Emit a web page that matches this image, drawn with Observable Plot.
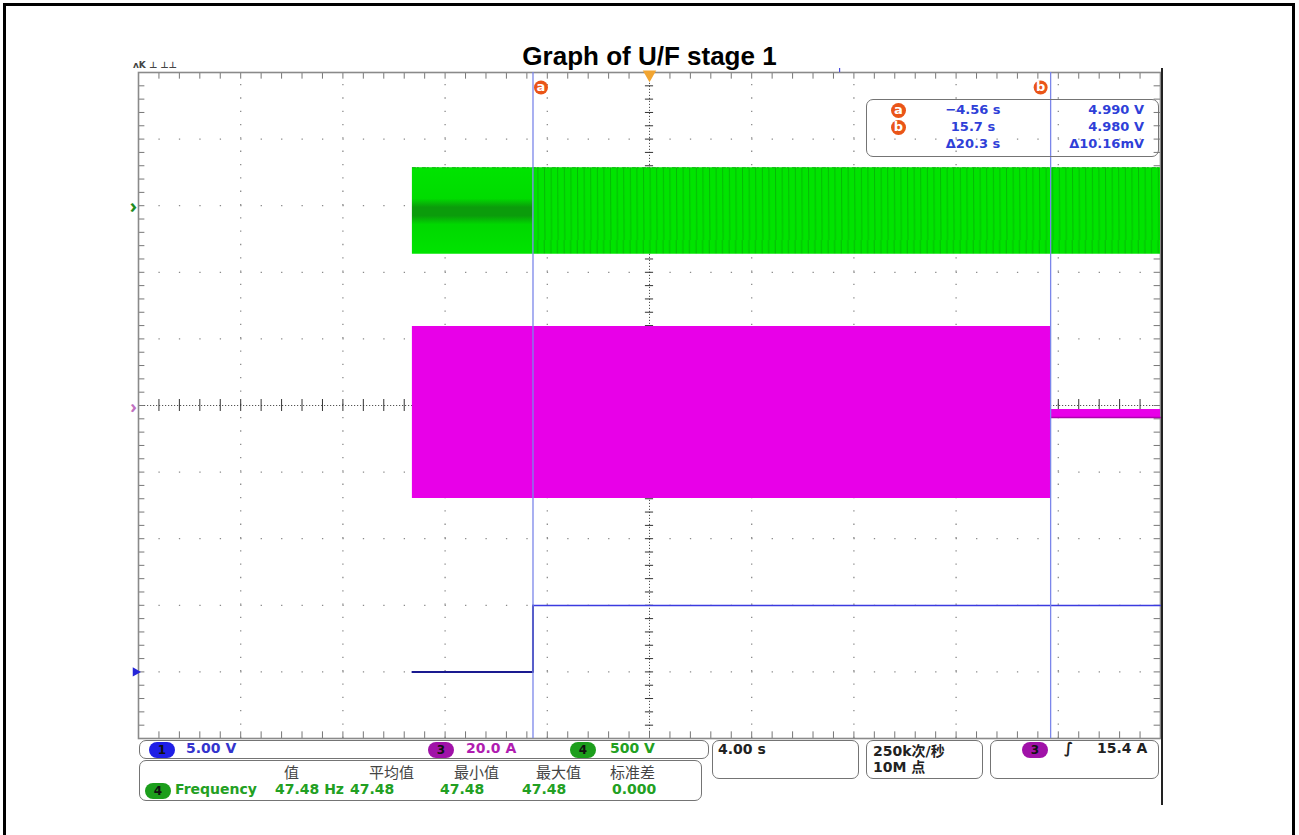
<!DOCTYPE html>
<html>
<head>
<meta charset="utf-8">
<script src="https://cdn.jsdelivr.net/npm/d3@7"></script>
<script src="https://cdn.jsdelivr.net/npm/@observablehq/plot@0.6"></script>
<style>
  body { margin: 0; background: #fff; }
  #wrap { position: relative; width: 1299px; height: 835px; overflow: hidden; font-family: "DejaVu Sans", sans-serif; }
  #plot { position: absolute; left: 0; top: 0; }
  .abs { position: absolute; white-space: nowrap; }
  .box { position: absolute; border: 1.6px solid #747474; border-radius: 7px; box-sizing: border-box; }
  .badge { position: absolute; width: 26px; height: 16px; border-radius: 8px; font: bold 12px "DejaVu Sans", sans-serif; color: #111; text-align: center; line-height: 16px; }
</style>
</head>
<body>
<svg width="0" height="0" style="position:absolute">
  <defs>
    <pattern id="gStripes" patternUnits="userSpaceOnUse" x="0" y="0" width="6.6" height="120">
      <rect width="6.6" height="120" fill="#00e400"/>
      <line x1="3" y1="0" x2="3.8" y2="120" stroke="#0a8a0a" stroke-width="0.8" stroke-opacity="0.6"/>
    </pattern>
    <linearGradient id="gBand" x1="0" y1="0" x2="0" y2="1">
      <stop offset="0" stop-color="#00e400"/>
      <stop offset="0.36" stop-color="#00dc00"/>
      <stop offset="0.46" stop-color="#0b9c0b"/>
      <stop offset="0.56" stop-color="#0b9c0b"/>
      <stop offset="0.66" stop-color="#00d800"/>
      <stop offset="1" stop-color="#00e400"/>
    </linearGradient>
  </defs>
</svg>
<div id="wrap">
  <div id="plot"></div>
</div>
<script>
const secondsPerDiv = 4.00;            // horizontal scale
const timeDomain = [-20, 20];          // s (10 divisions, trigger at centre)
const divDomain = [-5, 5];             // vertical divisions

// Channel 4 (green, 500 V/div) : envelope of the AC voltage
const ch4PerDiv = 500;
const ch4Offset = 2.92;                // div
const ch4Time = [-9.28, -4.56, 20];
const ch4Max = [325, 325, 325];        // V
const ch4Min = [-325, -325, -325];     // V

// Channel 3 (magenta, 20 A/div) : envelope of the current
const ch3PerDiv = 20;
const ch3Offset = 0;
const ch3Time = [-9.28, 15.7, 15.7, 20];
const ch3Max = [23.7, 23.7, -1.2, -1.2];   // A
const ch3Min = [-27.9, -27.9, -3.6, -3.6]; // A

// Channel 1 (blue, 5 V/div) : enable signal
const ch1PerDiv = 5;
const ch1Offset = -4;
const ch1Time = [-9.28, -4.56, -4.56, 20];
const ch1Volts = [0, 0, 4.99, 4.99];

// Cursors
const cursorTime = [-4.56, 15.7];
const cursorName = ["a", "b"];
const readTime = ["\u22124.56 s", "15.7 s", "\u039420.3 s"];
const readValue = ["4.990 V", "4.980 V", "\u039410.16mV"];

// Status bar
const chanBadge = ["1", "3", "4"];
const chanScale = ["5.00 V", "20.0 A", "500 V"];
const statHeader = ["值", "平均值", "最小值", "最大值", "标准差"];
const statValue = ["47.48 Hz", "47.48", "47.48", "47.48", "0.000"];
const statName = "Frequency";
const timeBase = "4.00 s";
const sampleRate = ["250k次/秒", "10M 点"];
const trigLevel = "15.4 A";
const title = "Graph of U/F stage 1";
const headerRemnant = "ʌK ⊥ ⊥⊥";

// ---------------- build ----------------
const toDiv = (v, perDiv, off) => v / perDiv + off;
const ch4 = ch4Time.map((t, i) => ({t, hi: toDiv(ch4Max[i], ch4PerDiv, ch4Offset), lo: toDiv(ch4Min[i], ch4PerDiv, ch4Offset)}));
const ch3 = ch3Time.map((t, i) => ({t, hi: toDiv(ch3Max[i], ch3PerDiv, ch3Offset), lo: toDiv(ch3Min[i], ch3PerDiv, ch3Offset)}));
const ch1 = ch1Time.map((t, i) => ({t, v: toDiv(ch1Volts[i], ch1PerDiv, ch1Offset)}));
const cursors = cursorTime.map((t, i) => ({t, name: cursorName[i]}));

const majorX = d3.range(-5, 6).map(i => i * secondsPerDiv);
const majorY = d3.range(-5, 6);
const minorX = d3.range(-25, 26).map(i => i * secondsPerDiv / 5);
const minorY = d3.range(-25, 26).map(i => i / 5);

const W = 1299, H = 835, L = 138, R = 1160, T = 72, B = 738;
const pxX = (R - L) / 10 / 5, pxY = (B - T) / 10 / 5;

const chart = Plot.plot({
  width: W, height: H,
  marginLeft: L, marginRight: W - R, marginTop: T, marginBottom: H - B,
  x: {domain: timeDomain, axis: null},
  y: {domain: divDomain, axis: null},
  style: {background: "transparent", overflow: "visible"},
  marks: [
    // dotted graticule
    Plot.ruleX(majorX.filter(d => d !== 0 && Math.abs(d) !== 20), {x: d => d, y1: -5, y2: 5, stroke: "#8a8a8a", strokeWidth: 1.3, strokeDasharray: `1.3 ${pxY - 1.3}`}),
    Plot.ruleY(majorY.filter(d => d !== 0 && Math.abs(d) !== 5), {y: d => d, x1: -20, x2: 20, stroke: "#8a8a8a", strokeWidth: 1.3, strokeDasharray: `1.3 ${pxX - 1.3}`}),
    // centre lines
    Plot.ruleX([0], {x: d => d, y1: -5, y2: 5, stroke: "#555", strokeWidth: 1, strokeDasharray: "1.2 1.8"}),
    Plot.ruleY([0], {y: d => d, x1: -20, x2: 20, stroke: "#555", strokeWidth: 1, strokeDasharray: "1.2 1.8"}),
    Plot.ruleX(minorX, {x: d => d, y1: -0.09, y2: 0.09, stroke: "#333", strokeWidth: 1}),
    Plot.ruleY(minorY, {y: d => d, x1: -0.16, x2: 0.16, stroke: "#333", strokeWidth: 1}),
    // edge ticks
    Plot.ruleX(minorX, {x: d => d, y1: 5, y2: 4.9, stroke: "#777", strokeWidth: 1}),
    Plot.ruleX(minorX, {x: d => d, y1: -5, y2: -4.9, stroke: "#777", strokeWidth: 1}),
    Plot.ruleY(minorY, {y: d => d, x1: -20, x2: -19.75, stroke: "#777", strokeWidth: 1}),
    Plot.ruleY(minorY, {y: d => d, x1: 20, x2: 19.75, stroke: "#777", strokeWidth: 1}),
    Plot.frame({stroke: "#8a8a8a", strokeWidth: 1.6}),

    // channel 4 (green)
    Plot.areaY(ch4.slice(0, 2), {x: "t", y1: "lo", y2: "hi", fill: "url(#gBand)"}),
    Plot.areaY(ch4.slice(1), {x: "t", y1: "lo", y2: "hi", fill: "url(#gStripes)"}),
    Plot.lineY(ch4, {x: "t", y: "hi", stroke: "#11b411", strokeWidth: 1, strokeDasharray: "3 2 1 4"}),

    // channel 3 (magenta)
    Plot.areaY(ch3, {x: "t", y1: "lo", y2: "hi", fill: "#e800e8"}),
    Plot.lineY(ch3.slice(2), {x: "t", y: "lo", stroke: "#b000b0", strokeWidth: 1.4}),

    // channel 1 (blue)
    Plot.lineY(ch1.slice(0, 3), {x: "t", y: "v", stroke: "#1a1a90", strokeWidth: 2}),
    Plot.lineY(ch1.slice(2), {x: "t", y: "v", stroke: "#3b3be0", strokeWidth: 1.6}),

    // cursors
    Plot.ruleX(cursors, {x: "t", y1: -5, y2: 5, stroke: "#7b86ea", strokeWidth: 1.3}),
    Plot.dot(cursors.slice(0, 1), {x: "t", y: 5, dy: 15, dx: 8, r: 7, fill: "#ea5518"}),
    Plot.text(cursors.slice(0, 1), {x: "t", y: 5, dy: 14, dx: 8, text: "name", fill: "white", fontWeight: "bold", fontSize: 13, fontFamily: "DejaVu Sans"}),
    Plot.dot(cursors.slice(1), {x: "t", y: 5, dy: 15, dx: -10, r: 7, fill: "#ea5518"}),
    Plot.text(cursors.slice(1), {x: "t", y: 5, dy: 14, dx: -10, text: "name", fill: "white", fontWeight: "bold", fontSize: 13, fontFamily: "DejaVu Sans"}),

    // trigger position marker
    Plot.dot([0], {x: d => d, y: 5, dy: 2, symbol: "triangle", rotate: 180, r: 5, fill: "#f2a531"}),
    // memory position mark
    Plot.ruleX([7.44], {x: d => d, y1: 5, y2: 5.06, stroke: "#4b4be0", strokeWidth: 1.2}),

    // channel ground markers on the left
    Plot.text([ch4Offset + 0.07], {x: -20, y: d => d, dx: -5, text: () => "\u203A", fill: "#1e8c1e", fontSize: 20, fontWeight: "bold"}),
    Plot.text([ch3Offset - 0.03], {x: -20, y: d => d, dx: -5, text: () => "\u203A", fill: "#c070c0", fontSize: 18, fontWeight: "bold"}),
    Plot.dot([ch1Offset], {x: -20, y: d => d, dx: -3, symbol: "triangle", rotate: 90, r: 3.5, fill: "#2525d8"})
  ]
});
document.getElementById("plot").appendChild(chart);

// ---------------- overlay text (title, readouts, status bar) ----------------
const wrap = document.getElementById("wrap");
function add(html, style, cls = "abs") {
  const d = document.createElement("div");
  d.className = cls;
  d.innerHTML = html;
  Object.assign(d.style, style);
  wrap.appendChild(d);
  return d;
}

// page frame
add("", {left: "3px", top: "3px", width: "1292px", height: "900px", border: "3px solid #000", borderBottom: "none", boxSizing: "border-box"});
add("", {left: "1161px", top: "68px", width: "1.5px", height: "737px", background: "#222"});

// scope header remnant (top-left)
add(headerRemnant, {left: "133px", top: "60px", font: "bold 9px 'DejaVu Sans'", color: "#444"});

// title
add(title, {left: "0px", width: "1299px", top: "41px", textAlign: "center", font: "bold 26px 'Liberation Sans', Arial, sans-serif", color: "#000"});

// cursor readout box
add("", {left: "866px", top: "99px", width: "293px", height: "58px"}, "box");
const blue = "#2f3fd8";
cursorName.forEach((n, i) => {
  add(n, {left: "891px", top: `${103 + i * 17}px`, width: "15px", height: "15px", borderRadius: "8px", background: "#ea5518", color: "#fff", font: "bold 13px 'DejaVu Sans'", textAlign: "center", lineHeight: "14px"});
});
readTime.forEach((s, i) => add(s, {left: "928px", width: "90px", top: `${102 + i * 17}px`, textAlign: "center", font: "bold 13px 'DejaVu Sans'", color: blue}));
readValue.forEach((s, i) => add(s, {left: "1040px", width: "104px", top: `${102 + i * 17}px`, textAlign: "right", font: "bold 13px 'DejaVu Sans'", color: blue}));

// status: channel scales
add("", {left: "139px", top: "740px", width: "570px", height: "19px"}, "box");
const badgeColors = ["#1f1fe6", "#a012a8", "#1c9e1c"];
const scaleColors = ["#3434cc", "#b01cb0", "#22a022"];
const badgeX = [149, 428, 570], scaleX = [186, 466, 610];
chanBadge.forEach((b, i) => {
  add(b, {left: `${badgeX[i]}px`, top: "741.5px", background: badgeColors[i]}, "badge");
  add(chanScale[i], {left: `${scaleX[i]}px`, top: "740px", font: "bold 14px 'DejaVu Sans'", color: scaleColors[i]});
});

// status: measurement
add("", {left: "139px", top: "760px", width: "563px", height: "41px"}, "box");
const headX = [284, 369, 454, 536, 610];
statHeader.forEach((h, i) => add(h, {left: `${headX[i]}px`, top: "761px", font: "15px 'Noto Sans CJK SC'", color: "#444"}));
add("4", {left: "145px", top: "783px", background: badgeColors[2]}, "badge");
add(statName, {left: "175px", top: "781px", font: "bold 14px 'DejaVu Sans'", color: "#22a022"});
const valX = [275, 350, 440, 522, 612];
statValue.forEach((v, i) => add(v, {left: `${valX[i]}px`, top: "781px", font: "bold 14px 'DejaVu Sans'", color: "#22a022"}));

// status: time base, sampling, trigger
add("", {left: "712px", top: "740px", width: "147px", height: "39px"}, "box");
add(timeBase, {left: "718px", top: "741px", font: "bold 14px 'DejaVu Sans'", color: "#222"});
add("", {left: "866px", top: "740px", width: "117px", height: "39px"}, "box");
add(sampleRate[0], {left: "873px", top: "740px", font: "bold 14px 'DejaVu Sans', 'Noto Sans CJK SC'", color: "#222"});
add(sampleRate[1], {left: "873px", top: "756px", font: "bold 14px 'DejaVu Sans', 'Noto Sans CJK SC'", color: "#222"});
add("", {left: "990px", top: "740px", width: "169px", height: "39px"}, "box");
add("3", {left: "1022px", top: "742px", background: badgeColors[1]}, "badge");
add("\u222B", {left: "1064px", top: "739px", font: "italic bold 15px 'DejaVu Sans'", color: "#222"});
add(trigLevel, {left: "1097px", top: "740px", font: "bold 14px 'DejaVu Sans'", color: "#222"});
</script>
</body>
</html>
